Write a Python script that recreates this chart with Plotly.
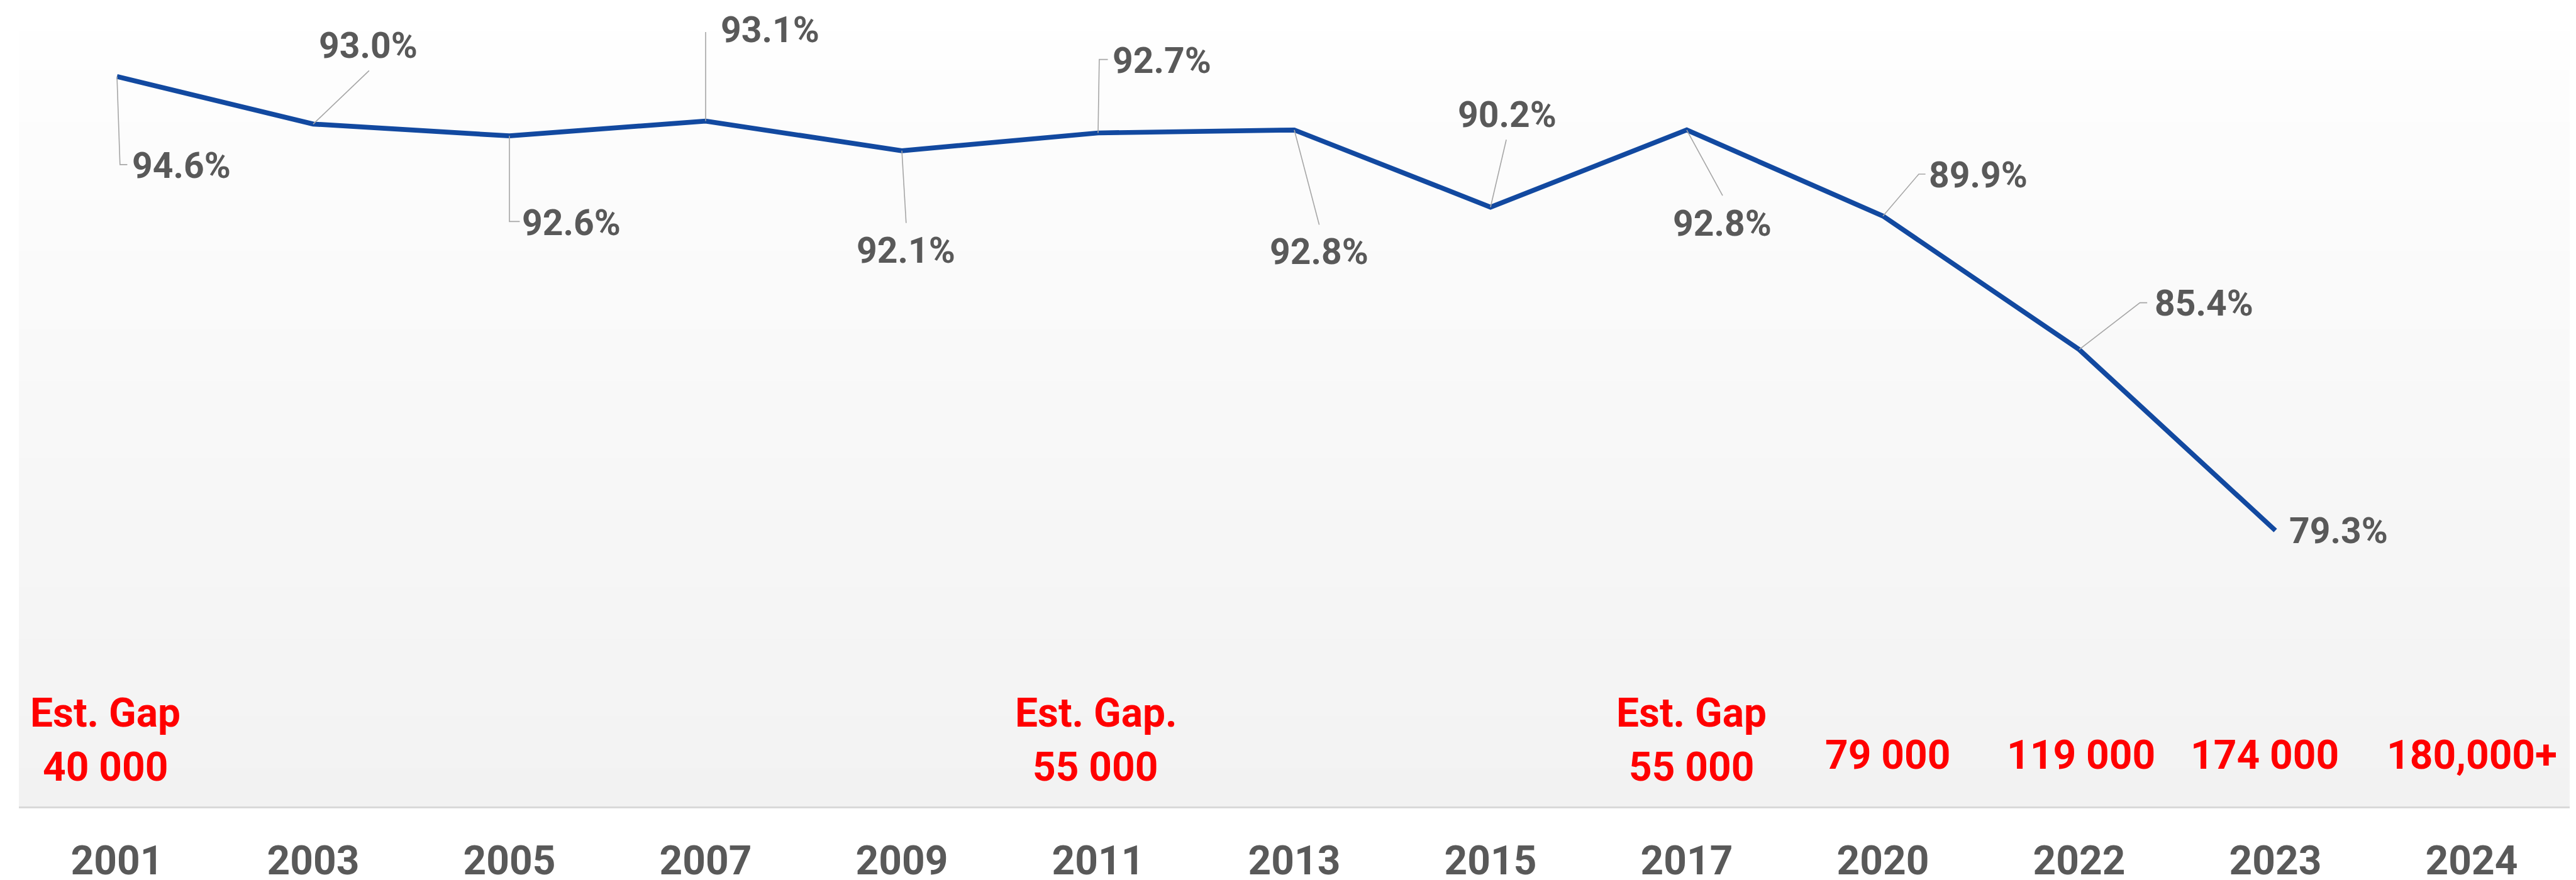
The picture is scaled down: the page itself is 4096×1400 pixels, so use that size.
import plotly.graph_objects as go

# ---------------- data ----------------
years = ["2001", "2003", "2005", "2007", "2009", "2011", "2013",
         "2015", "2017", "2020", "2022", "2023", "2024"]
rate = [94.6, 93.0, 92.6, 93.1, 92.1, 92.7, 92.8, 90.2, 92.8, 89.9, 85.4, 79.3, None]
gap_head = ["Est. Gap", "", "", "", "", "Est. Gap.", "", "", "Est. Gap", "", "", "", ""]
gap_value = ["40 000", "", "", "", "", "55 000", "", "", "55 000",
             "79 000", "119 000", "174 000", "180,000+"]

# ---------------- style ----------------
S = 0.966
W, H = 4096, 1400
FONT = "Roboto"
GRAY_TXT = "#595959"
RED = "#FF0000"
BLUE = "#1249A0"
LEADER = "#A6A6A6"

idx = list(range(len(years)))

# label offsets (reference px, dx right, dy down) from each point
label_off = [(106, 147), (91, -129), (102, 143), (106, -150), (7, 164), (105, -119),
             (41, 201), (27, -152), (59, 154), (157, -67), (205, -76), (104, 1)]
# leader line paths (reference px, dx right, dy down) from each point
leader_pts = [
    [(0, 0), (5, 145), (17, 145)],
    [(0, 0), (92, -88)],
    [(0, 0), (0, 141), (17, 141)],
    [(0, 0), (0, -152), (17, -152)],
    [(0, 0), (7, 119)],
    [(0, 0), (2, -121), (16, -121)],
    [(0, 0), (41, 156)],
    [(0, 0), (26, -111)],
    [(0, 0), (59, 108)],
    [(0, 0), (59, -69), (70, -69)],
    [(0, 0), (100, -77), (112, -77)],
    None,
]
gap_xshift = [-19, 0, 0, 0, 0, -4, 0, 0, 8, 8, 3, -18, 0]

fig = go.Figure()

fig.add_trace(go.Scatter(
    x=idx, y=rate, mode="lines",
    line=dict(color=BLUE, width=8 * S),
    hoverinfo="skip", showlegend=False,
))

shapes = []
# gradient background of plot area (white at top -> #f2f2f2 at bottom)
N = 60
top = (254, 254, 254)
bot = (242, 242, 242)
for i in range(N):
    f = (i + 0.5) / N
    c = tuple(round(bot[k] + (top[k] - bot[k]) * f) for k in range(3))
    shapes.append(dict(type="rect", xref="paper", yref="paper",
                       x0=0, x1=1, y0=i / N, y1=(i + 1) / N + 0.001,
                       fillcolor="rgb(%d,%d,%d)" % c, line=dict(width=0),
                       layer="below"))

# leader lines
for i, pts in enumerate(leader_pts):
    if pts is None or rate[i] is None:
        continue
    path = "M " + " L ".join("%.1f,%.1f" % (dx * S, -dy * S) for dx, dy in pts)
    shapes.append(dict(type="path", xref="x", yref="y",
                       xsizemode="pixel", ysizemode="pixel",
                       xanchor=idx[i], yanchor=rate[i], path=path,
                       line=dict(color=LEADER, width=1.6), layer="above"))

annotations = []
# data labels
for i, v in enumerate(rate):
    if v is None:
        continue
    dx, dy = label_off[i]
    annotations.append(dict(
        x=idx[i], y=v, xref="x", yref="y", text="%.1f%%" % v, showarrow=False,
        xanchor="center", yanchor="middle", xshift=dx * S, yshift=-dy * S,
        font=dict(family=FONT, size=57, color=GRAY_TXT, weight="bold"),
    ))

# gap labels
plot_top = 45 * S
plot_bot = 1320 * S
ph = plot_bot - plot_top


def ypaper(y_ref):
    return (plot_bot - y_ref * S) / ph


for i in idx:
    if gap_head[i]:
        annotations.append(dict(
            x=idx[i], y=ypaper(1166), xref="x", yref="paper", text=gap_head[i],
            showarrow=False, xanchor="center", yanchor="middle", xshift=gap_xshift[i] * S,
            font=dict(family=FONT, size=64, color=RED, weight="bold")))
        annotations.append(dict(
            x=idx[i], y=ypaper(1255), xref="x", yref="paper", text=gap_value[i],
            showarrow=False, xanchor="center", yanchor="middle", xshift=gap_xshift[i] * S,
            font=dict(family=FONT, size=64, color=RED, weight="bold")))
    elif gap_value[i]:
        annotations.append(dict(
            x=idx[i], y=ypaper(1236), xref="x", yref="paper", text=gap_value[i],
            showarrow=False, xanchor="center", yanchor="middle", xshift=gap_xshift[i] * S,
            font=dict(family=FONT, size=64, color=RED, weight="bold")))

fig.update_layout(
    width=W, height=H,
    margin=dict(l=22, r=18, t=round(plot_top), b=round(H - plot_bot)),
    paper_bgcolor="white", plot_bgcolor="white",
    shapes=shapes, annotations=annotations,
    xaxis=dict(range=[-0.5, len(years) - 0.5], tickmode="array", tickvals=idx,
               ticktext=years, showgrid=False, zeroline=False, showline=True,
               linecolor="#D9D9D9", linewidth=3, ticks="", automargin=False,
               ticklabelstandoff=28,
               tickfont=dict(family=FONT, size=64, color=GRAY_TXT, weight="bold")),
    yaxis=dict(range=[70, 96.1], visible=False, showgrid=False, zeroline=False),
    showlegend=False,
)

fig.write_html("out.html")
